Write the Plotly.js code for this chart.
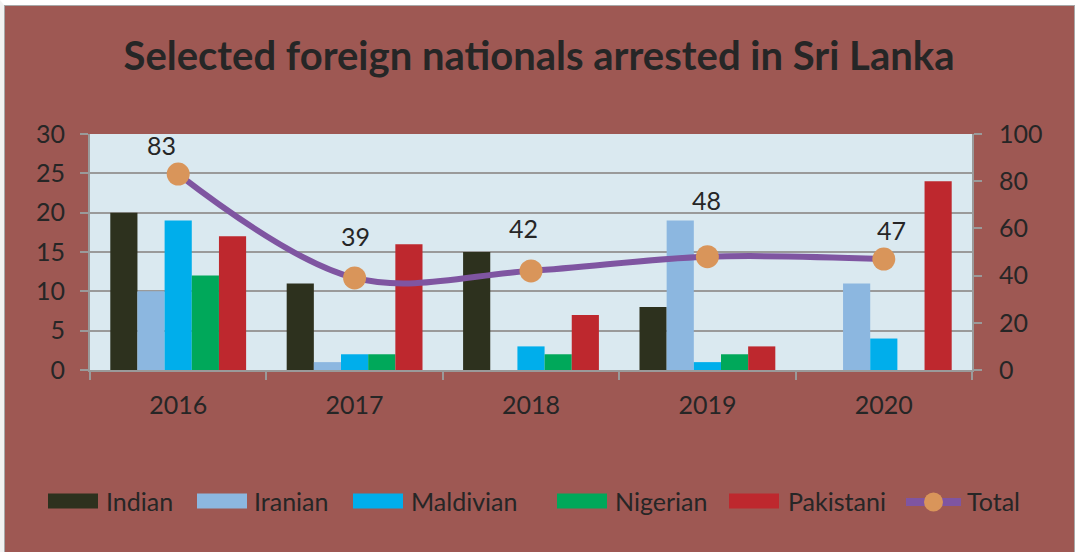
<!DOCTYPE html>
<html><head><meta charset="utf-8">
<script src="https://cdn.plot.ly/plotly-3.0.1.min.js"></script>
<style>
html,body{margin:0;padding:0;background:#fff;}
#wrap{position:relative;width:1078px;height:552px;overflow:hidden;}
#chart{position:absolute;left:0;top:0;width:1078px;height:552px;}
#frame{position:absolute;left:0;top:0;width:1078px;height:560px;box-sizing:border-box;border-left:4px solid #f2f2f2;border-top:5px solid #fff;border-right:3px solid #fff;pointer-events:none;}
#frame div{width:100%;height:100%;box-sizing:border-box;border:1.5px solid #a8a8a8;}
</style>
</head><body>
<div id="wrap"><div id="chart"></div><div id="frame"><div></div></div></div>
<script>
const years = ['2016', '2017', '2018', '2019', '2020'];
const indian = [20, 11, 15, 8, 0];
const iranian = [10, 1, 0, 19, 11];
const maldivian = [19, 2, 3, 1, 4];
const nigerian = [12, 2, 2, 2, 0];
const pakistani = [17, 16, 7, 3, 24];
const total = [83, 39, 42, 48, 47];
const seriesNames = ['Indian', 'Iranian', 'Maldivian', 'Nigerian', 'Pakistani'];
const totalName = 'Total';

const colors = ['#2d311e', '#8cb7e0', '#00aeeb', '#00a85a', '#be282e'];
const lineColor = '#7f55a1', markerColor = '#d9955a';
const seriesData = [indian, iranian, maldivian, nigerian, pakistani];
const FONT = 'Lato, "Open Sans", sans-serif';
const TXT = '#262626';

// plot area in pixels (for placing the hand-drawn legend below the chart)
const M = {l: 90, r: 106, t: 134, b: 182};
const W = 1078, H = 552;
const pw = W - M.l - M.r, ph = H - M.t - M.b;
const px = v => (v - M.l) / pw;
const py = v => (H - M.b - v) / ph;

const traces = seriesData.map((vals, i) => ({
  type: 'bar', x: years, y: vals, name: seriesNames[i],
  marker: {color: colors[i], line: {width: 0}}, showlegend: false
}));
traces.push({
  type: 'scatter', mode: 'lines+markers', x: years, y: total, name: totalName, yaxis: 'y2',
  line: {color: lineColor, width: 6, shape: 'spline', smoothing: 1},
  marker: {color: markerColor, size: 23}, showlegend: false
});

const dx = [-17, 1, -8, -1, 8];
const dy = [29, 42, 43, 57, 29];
// on a category axis, annotation x is the category index
const annotations = years.map((yr, i) => ({
  x: i, y: total[i], xref: 'x', yref: 'y2', text: String(total[i]), showarrow: false,
  xanchor: 'center', yanchor: 'middle', xshift: dx[i], yshift: dy[i],
  font: {family: FONT, size: 25, color: TXT}
}));

// legend (wide swatches like the reference)
const legY = 501;
const swatchX = [48, 197, 353, 557, 729];
const textX = [104, 252, 409, 613, 786, 965];
const shapes = [];
seriesNames.forEach((nm, i) => {
  shapes.push({type: 'rect', xref: 'paper', yref: 'paper', x0: px(swatchX[i]), x1: px(swatchX[i] + 50),
    y0: py(legY + 7.5), y1: py(legY - 7.5), fillcolor: colors[i], line: {width: 0}, layer: 'above'});
  annotations.push({xref: 'paper', yref: 'paper', x: px(textX[i]), y: py(legY), xanchor: 'left', yanchor: 'middle',
    text: nm, showarrow: false, font: {family: FONT, size: 25, color: TXT}});
});
shapes.push({type: 'line', xref: 'paper', yref: 'paper', x0: px(906), x1: px(961), y0: py(legY + 1), y1: py(legY + 1),
  line: {color: lineColor, width: 8}, layer: 'above'});
shapes.push({type: 'circle', xref: 'paper', yref: 'paper', x0: px(924), x1: px(943), y0: py(legY + 10.5), y1: py(legY - 8.5),
  fillcolor: markerColor, line: {width: 0}, layer: 'above'});
annotations.push({xref: 'paper', yref: 'paper', x: px(textX[5]), y: py(legY), xanchor: 'left', yanchor: 'middle',
  text: totalName, showarrow: false, font: {family: FONT, size: 25, color: TXT}});

const axisCol = '#9a9a9a';
const layout = {
  width: W, height: H,
  paper_bgcolor: '#9e5853', plot_bgcolor: '#daE9f0',
  margin: M,
  font: {family: FONT, color: TXT, size: 25},
  title: {text: '<b>Selected foreign nationals arrested in Sri Lanka</b>', x: 0.5, xanchor: 'center', y: 0.898, yanchor: 'middle',
          font: {family: FONT, size: 40, color: TXT}},
  barmode: 'group', bargap: 0.23, bargroupgap: 0,
  xaxis: {type: 'category', range: [-0.5, years.length - 0.5], tickson: 'boundaries', ticks: 'outside', ticklen: 8, tickwidth: 2, tickcolor: axisCol,
          showline: true, linecolor: axisCol, linewidth: 2, showgrid: false, ticklabelstandoff: 12,
          tickfont: {family: FONT, size: 25, color: TXT}},
  yaxis: {range: [0, 30], dtick: 5, ticks: 'outside', ticklen: 8, tickwidth: 2, tickcolor: axisCol,
          showline: true, linecolor: axisCol, linewidth: 2, showgrid: true, gridcolor: axisCol, gridwidth: 2,
          zeroline: false, ticklabelstandoff: 10, tickfont: {family: FONT, size: 25, color: TXT}},
  yaxis2: {range: [0, 100], dtick: 20, overlaying: 'y', side: 'right', ticks: 'outside', ticklen: 8, tickwidth: 2,
          tickcolor: axisCol, showline: true, linecolor: axisCol, linewidth: 2, showgrid: false, zeroline: false,
          ticklabelstandoff: 12, tickfont: {family: FONT, size: 25, color: TXT}},
  showlegend: false,
  annotations: annotations,
  shapes: shapes
};

Plotly.newPlot('chart', traces, layout, {displayModeBar: false, staticPlot: true});
</script>
</body></html>
